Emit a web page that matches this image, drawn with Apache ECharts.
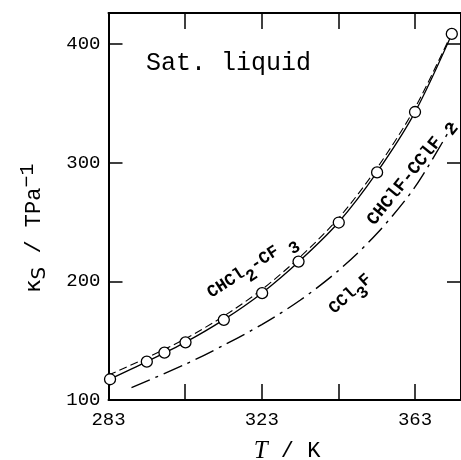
<!DOCTYPE html>
<html>
<head>
<meta charset="utf-8">
<script src="https://cdn.jsdelivr.net/npm/echarts@6/dist/echarts.min.js"></script>
<style>html,body{margin:0;padding:0;background:#fff;}#c{width:461px;height:460px;}</style>
</head>
<body>
<div id="c"></div>
<script>
// Experimental points (circles)
var pointT = [283.4, 293.0, 297.6, 303.1, 313.1, 323.1, 332.6, 343.1, 353.1, 363.0, 372.6];
var pointK = [117.5, 132.3, 139.9, 148.6, 167.5, 190.0, 216.6, 249.5, 291.7, 342.6, 408.4];
// Solid curve
var solidT = [283, 293, 303, 313, 323, 333, 343, 353, 363, 373];
var solidK = [117.0, 132.3, 148.5, 167.5, 190.0, 217.5, 249.5, 291.5, 342.5, 411.0];
// Dashed curve
var dashT = [283, 293, 303, 313, 323, 333, 343, 353, 363, 373];
var dashK = [121.0, 135.5, 151.5, 170.5, 193.0, 220.5, 253.0, 295.0, 346.0, 412.0];
// Dash-dot curve (CCl3F)
var ddT = [289, 303, 313, 323, 333, 343, 353, 363, 373];
var ddK = [110.4, 130.0, 146.0, 163.5, 184.0, 209.0, 240.0, 279.5, 333.0];
// Axis ticks
var xTickLabels = [283, 323, 363];
var yTickLabels = [100, 200, 300, 400];

function zip(a, b) { return a.map(function (v, i) { return [v, b[i]]; }); }

var mono = 'Liberation Mono';
var chart = echarts.init(document.getElementById('c'), null, { renderer: 'canvas' });

var xCommon = {
  type: 'value', min: 283, max: 375, interval: 20,
  axisLine: { show: true, lineStyle: { color: '#000', width: 2 } },
  axisTick: { show: true, inside: true, length: 16, lineStyle: { color: '#000', width: 1.5 } },
  splitLine: { show: false }
};
var yCommon = {
  type: 'value', min: 100, max: 426, interval: 100,
  axisLine: { show: true, lineStyle: { color: '#000', width: 2 } },
  axisTick: { show: true, inside: true, length: 14, lineStyle: { color: '#000', width: 1.5 } },
  splitLine: { show: false }
};

var option = {
  backgroundColor: '#fff',
  animation: false,
  grid: { left: 108.5, top: 13, width: 361, bottom: 60, containLabel: false },
  xAxis: [
    Object.assign({}, xCommon, {
      position: 'bottom',
      axisLabel: {
        show: true, color: '#000', fontFamily: mono, fontSize: 19, margin: 10,
        showMaxLabel: false,
        formatter: function (v) { return xTickLabels.indexOf(Math.round(v)) >= 0 ? String(Math.round(v)) : ''; }
      }
    }),
    Object.assign({}, xCommon, { position: 'top', axisLabel: { show: false } })
  ],
  yAxis: [
    Object.assign({}, yCommon, {
      position: 'left',
      axisLabel: {
        show: true, color: '#000', fontFamily: mono, fontSize: 19, margin: 8,
        showMaxLabel: false,
        formatter: function (v) { return yTickLabels.indexOf(Math.round(v)) >= 0 ? String(Math.round(v)) : ''; }
      }
    }),
    Object.assign({}, yCommon, { position: 'right', axisLabel: { show: false } })
  ],
  series: [
    {
      type: 'line', data: zip(solidT, solidK), smooth: 0.3,
      showSymbol: false, lineStyle: { color: '#000', width: 1.3 }, z: 3
    },
    {
      type: 'line', data: zip(dashT, dashK), smooth: 0.3,
      showSymbol: false, lineStyle: { color: '#000', width: 1.1, type: [8, 4] }, z: 3
    },
    {
      type: 'line', data: zip(ddT, ddK), smooth: 0.3,
      showSymbol: false, lineStyle: { color: '#000', width: 1.4, type: [20, 6, 3, 6] }, z: 3
    },
    {
      type: 'scatter', data: zip(pointT, pointK), symbol: 'circle', symbolSize: 11,
      itemStyle: { color: '#fff', borderColor: '#000', borderWidth: 1.3, opacity: 1 }, z: 5
    }
  ],
  graphic: [
    {
      type: 'text', left: 146, top: 51,
      style: { text: 'Sat. liquid', font: '25px "Liberation Mono"', fill: '#000' }
    },
    {
      type: 'text', x: 254, y: 270, rotation: 33 * Math.PI / 180,
      style: {
        text: '{n|CHCl}{s|2}{n|-CF}{s| 3}', align: 'center', verticalAlign: 'middle',
        rich: {
          n: { fontFamily: mono, fontSize: 17, fontWeight: 'bold', fill: '#000', padding: [0, 0, 8, 0] },
          s: { fontFamily: mono, fontSize: 17, fontWeight: 'bold', fill: '#000', padding: [8, 0, 0, 0] }
        }
      }
    },
    {
      type: 'text', x: 413, y: 174, rotation: 51 * Math.PI / 180,
      style: {
        text: '{n|CHClF-CClF}{s| 2}', align: 'center', verticalAlign: 'middle',
        rich: {
          n: { fontFamily: mono, fontSize: 18, fontWeight: 'bold', fill: '#000', padding: [0, 0, 4, 0] },
          s: { fontFamily: mono, fontSize: 18, fontWeight: 'bold', fill: '#000', padding: [4, 0, 0, 0] }
        }
      }
    },
    {
      type: 'text', x: 353, y: 297, rotation: 42 * Math.PI / 180,
      style: {
        text: '{n|CCl}{s|3}{n|F}', align: 'center', verticalAlign: 'middle',
        rich: {
          n: { fontFamily: mono, fontSize: 17, fontWeight: 'bold', fill: '#000', padding: [0, 0, 8, 0] },
          s: { fontFamily: mono, fontSize: 17, fontWeight: 'bold', fill: '#000', padding: [8, 0, 0, 0] }
        }
      }
    },
    {
      type: 'text', x: 37, y: 228, rotation: Math.PI / 2,
      style: {
        text: '{k|κ}{s|S}{n| / TPa}{p|−1}', align: 'center', verticalAlign: 'middle',
        rich: {
          k: { fontFamily: 'DejaVu Sans', fontSize: 22, fill: '#000', padding: [0, 0, 6, 0] },
          s: { fontFamily: 'DejaVu Sans', fontSize: 20, fill: '#000', padding: [6, 0, 0, 0] },
          n: { fontFamily: mono, fontSize: 22, fill: '#000', padding: [0, 0, 6, 0] },
          p: { fontFamily: mono, fontSize: 20, fill: '#000', padding: [0, 0, 18, 0] }
        }
      }
    },
    {
      type: 'text', x: 287, y: 451,
      style: {
        text: '{t|T}{n| / K}', align: 'center', verticalAlign: 'middle',
        rich: {
          t: { fontFamily: 'Liberation Serif', fontStyle: 'italic', fontSize: 25, fill: '#000' },
          n: { fontFamily: mono, fontSize: 22, fill: '#000' }
        }
      }
    }
  ]
};
chart.setOption(option);
</script>
</body>
</html>
